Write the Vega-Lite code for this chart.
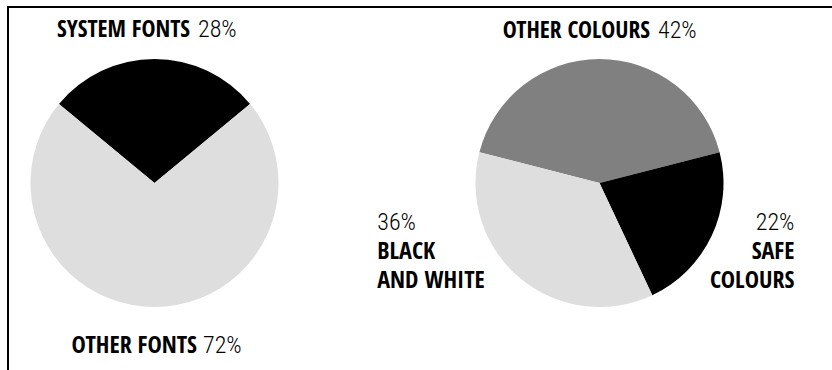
{
  "$schema": "https://vega.github.io/schema/vega-lite/v6.json",
  "width": 826,
  "height": 365,
  "padding": {"left": 8, "top": 7, "right": -2, "bottom": -2},
  "autosize": {"type": "none"},
  "background": "white",
  "config": {"view": {"stroke": "#000000", "strokeWidth": 2}},
  "data": {
    "values": [
      {"chart": "fonts", "id": "system", "label": "SYSTEM FONTS", "value": 0.28, "order": 1},
      {"chart": "fonts", "id": "other", "label": "OTHER FONTS", "value": 0.72, "order": 2},
      {"chart": "colours", "id": "otherc", "label": "OTHER COLOURS", "value": 0.42, "order": 1},
      {"chart": "colours", "id": "safe", "label": "SAFE\nCOLOURS", "value": 0.22, "order": 2},
      {"chart": "colours", "id": "bw", "label": "BLACK\nAND WHITE", "value": 0.36, "order": 3}
    ]
  },
  "resolve": {"scale": {"theta": "independent"}},
  "layer": [
    {
      "transform": [{"filter": "datum.chart === 'fonts'"}],
      "encoding": {
        "x": {"field": "chart", "type": "nominal", "scale": {"type": "point", "domain": ["fonts", "colours"], "range": [146.5, 591.5], "padding": 0}, "axis": null},
        "y": {"value": 176},
        "theta": {"field": "value", "type": "quantitative", "stack": true, "scale": {"range": [-0.8796, 5.4036]}},
        "order": {"field": "order", "type": "quantitative"}
      },
      "layer": [
        {
          "mark": {"type": "arc", "radius": 124},
          "encoding": {
            "color": {"field": "id", "type": "nominal", "legend": null,
              "scale": {"domain": ["system", "other", "otherc", "safe", "bw"], "range": ["#000000", "#dedede", "#808080", "#000000", "#dedede"]}}
          }
        },
        {
          "mark": {"type": "text", "radius": 146, "align": "right", "baseline": "alphabetic", "dx": 35.5, "font": "Open Sans Condensed, Roboto Condensed, sans-serif", "fontWeight": "bold", "fontSize": 23.5, "fill": "#000000"},
          "encoding": {"text": {"condition": {"test": "datum.id === 'system'", "field": "label"}, "value": ""}}
        },
        {
          "mark": {"type": "text", "radius": 146, "align": "left", "baseline": "alphabetic", "dx": 43.5, "font": "Roboto Condensed, sans-serif", "fontWeight": 300, "fontSize": 24, "fill": "#000000"},
          "encoding": {"text": {"condition": {"test": "datum.id === 'system'", "field": "value", "type": "quantitative", "format": ".0%"}, "value": ""}}
        },
        {
          "mark": {"type": "text", "radius": 170, "align": "right", "baseline": "alphabetic", "dx": 42.5, "font": "Open Sans Condensed, Roboto Condensed, sans-serif", "fontWeight": "bold", "fontSize": 24, "fill": "#000000"},
          "encoding": {"text": {"condition": {"test": "datum.id === 'other'", "field": "label"}, "value": ""}}
        },
        {
          "mark": {"type": "text", "radius": 170, "align": "left", "baseline": "alphabetic", "dx": 48.5, "font": "Roboto Condensed, sans-serif", "fontWeight": 300, "fontSize": 24, "fill": "#000000"},
          "encoding": {"text": {"condition": {"test": "datum.id === 'other'", "field": "value", "type": "quantitative", "format": ".0%"}, "value": ""}}
        }
      ]
    },
    {
      "transform": [{"filter": "datum.chart === 'colours'"}],
      "encoding": {
        "x": {"field": "chart", "type": "nominal", "scale": {"type": "point", "domain": ["fonts", "colours"], "range": [146.5, 591.5], "padding": 0}, "axis": null},
        "y": {"value": 176},
        "theta": {"field": "value", "type": "quantitative", "stack": true, "scale": {"range": [-1.31947, 4.96372]}},
        "order": {"field": "order", "type": "quantitative"}
      },
      "layer": [
        {
          "mark": {"type": "arc", "radius": 124},
          "encoding": {
            "color": {"field": "id", "type": "nominal", "legend": null,
              "scale": {"domain": ["system", "other", "otherc", "safe", "bw"], "range": ["#000000", "#dedede", "#808080", "#000000", "#dedede"]}}
          }
        },
        {
          "mark": {"type": "text", "radius": 144.7, "align": "right", "baseline": "alphabetic", "dx": 50.5, "font": "Open Sans Condensed, Roboto Condensed, sans-serif", "fontWeight": "bold", "fontSize": 23.5, "fill": "#000000"},
          "encoding": {"text": {"condition": {"test": "datum.id === 'otherc'", "field": "label"}, "value": ""}}
        },
        {
          "mark": {"type": "text", "radius": 144.7, "align": "left", "baseline": "alphabetic", "dx": 58.5, "font": "Roboto Condensed, sans-serif", "fontWeight": 300, "fontSize": 24, "fill": "#000000"},
          "encoding": {"text": {"condition": {"test": "datum.id === 'otherc'", "field": "value", "type": "quantitative", "format": ".0%"}, "value": ""}}
        },
        {
          "mark": {"type": "text", "radius": 190, "align": "right", "baseline": "alphabetic", "dx": 23, "dy": -34, "font": "Roboto Condensed, sans-serif", "fontWeight": 300, "fontSize": 24, "fill": "#000000"},
          "encoding": {"text": {"condition": {"test": "datum.id === 'safe'", "field": "value", "type": "quantitative", "format": ".0%"}, "value": ""}}
        },
        {
          "mark": {"type": "text", "radius": 190, "align": "right", "baseline": "alphabetic", "dx": 23, "dy": -5, "lineBreak": "\n", "lineHeight": 29, "font": "Open Sans Condensed, Roboto Condensed, sans-serif", "fontWeight": "bold", "fontSize": 24, "fill": "#000000"},
          "encoding": {"text": {"condition": {"test": "datum.id === 'safe'", "field": "label"}, "value": ""}}
        },
        {
          "mark": {"type": "text", "radius": 140, "align": "left", "baseline": "alphabetic", "dx": -133, "dy": -61, "font": "Roboto Condensed, sans-serif", "fontWeight": 300, "fontSize": 24, "fill": "#000000"},
          "encoding": {"text": {"condition": {"test": "datum.id === 'bw'", "field": "value", "type": "quantitative", "format": ".0%"}, "value": ""}}
        },
        {
          "mark": {"type": "text", "radius": 140, "align": "left", "baseline": "alphabetic", "dx": -133, "dy": -32, "lineBreak": "\n", "lineHeight": 29, "font": "Open Sans Condensed, Roboto Condensed, sans-serif", "fontWeight": "bold", "fontSize": 24, "fill": "#000000"},
          "encoding": {"text": {"condition": {"test": "datum.id === 'bw'", "field": "label"}, "value": ""}}
        }
      ]
    }
  ]
}
